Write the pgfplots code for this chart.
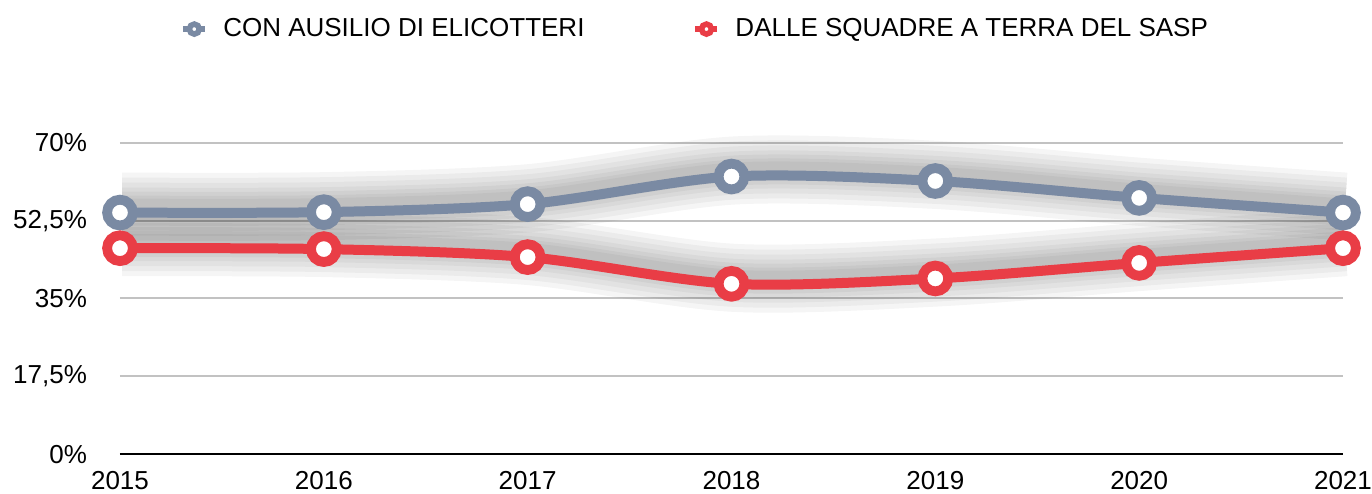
\documentclass[border=0pt]{standalone}
\usepackage{fontspec}
\setmainfont{Liberation Sans}
\usepackage{pgfplots}
\pgfplotsset{compat=1.18}
\definecolor{cgrey}{HTML}{7A8AA3}
\definecolor{cred}{HTML}{E93D46}
\definecolor{cgrid}{HTML}{C2C2C2}
\pgfplotstableread{
year grey red
2015 54.3 46.3
2016 54.4 46.1
2017 56.2 44.3
2018 62.4 38.3
2019 61.4 39.5
2020 57.6 43.0
2021 54.3 46.3
}\datatable
\pgfplotsset{shadow/.style={smooth, draw=black, opacity=0.04, forget plot, yshift=3bp, xshift=1bp, line width=#1}}
\begin{document}
\fontsize{13bp}{15bp}\selectfont
\begin{tikzpicture}
\begin{axis}[
  at={(0,0)}, anchor=south west,
  scale only axis, width=611.5bp, height=155.8bp,
  xmin=2015, xmax=2021, ymin=0, ymax=70,
  clip=false,
  axis x line*=bottom, axis y line*=left,
  y axis line style={draw=none},
  x axis line style={black, line width=1bp},
  major tick length=0pt,
  ymajorgrids, grid style={cgrid, line width=1bp},
  xtick={2015,2016,2017,2018,2019,2020,2021},
  xticklabels={2015,2016,2017,2018,2019,2020,2021},
  ytick={0,17.5,35,52.5,70},
  yticklabels={0\%,{17,5\%},35\%,{52,5\%},70\%},
  yticklabel style={anchor=east, xshift=-12bp, font=\fontsize{13bp}{15bp}\selectfont},
  xticklabel style={anchor=north, yshift=-4bp, font=\fontsize{13bp}{15bp}\selectfont},
  legend columns=2,
  legend style={draw=none, fill=none, inner sep=0pt, anchor=west,
    at={(0.049,1.3646)},
    nodes={inner sep=0pt, font=\fontsize{13bp}{15bp}\selectfont},
    /tikz/every odd column/.append style={column sep=7.5bp},
    /tikz/every even column/.append style={column sep=54bp}},
  legend cell align=left,
]
% shadows
\addplot[shadow=34bp] table[x=year,y=grey]{\datatable};
\addplot[shadow=34bp] table[x=year,y=red]{\datatable};
\addplot[shadow=29bp] table[x=year,y=grey]{\datatable};
\addplot[shadow=29bp] table[x=year,y=red]{\datatable};
\addplot[shadow=24bp] table[x=year,y=grey]{\datatable};
\addplot[shadow=24bp] table[x=year,y=red]{\datatable};
\addplot[shadow=19bp] table[x=year,y=grey]{\datatable};
\addplot[shadow=19bp] table[x=year,y=red]{\datatable};
\addplot[shadow=15bp] table[x=year,y=grey]{\datatable};
\addplot[shadow=15bp] table[x=year,y=red]{\datatable};
\addplot[shadow=11bp] table[x=year,y=grey]{\datatable};
\addplot[shadow=11bp] table[x=year,y=red]{\datatable};
\addplot[shadow=8bp] table[x=year,y=grey]{\datatable};
\addplot[shadow=8bp] table[x=year,y=red]{\datatable};
\addplot[smooth, draw=cgrey, line width=5bp, mark=*, mark size=6.45bp,
  mark options={fill=white, draw=cgrey, line width=4.9bp},
  legend image code/.code={
    \draw[cgrey, line width=3bp] (0.5bp,0bp) -- (11.5bp,0bp);
    \draw[cgrey, fill=white, line width=2.8bp] (6bp,0bp) circle (2.5bp);}
  ] table[x=year,y=grey]{\datatable};
\addlegendentry{CON AUSILIO DI ELICOTTERI}
\addplot[smooth, draw=cred, line width=5bp, mark=*, mark size=6.45bp,
  mark options={fill=white, draw=cred, line width=4.9bp},
  legend image code/.code={
    \draw[cred, line width=3bp] (0.5bp,0bp) -- (11.5bp,0bp);
    \draw[cred, fill=white, line width=2.8bp] (6bp,0bp) circle (2.5bp);}
  ] table[x=year,y=red]{\datatable};
\addlegendentry{DALLE SQUADRE A TERRA DEL SASP}
\end{axis}
\pgfresetboundingbox
\path[use as bounding box] (-60bp,-19.85bp) rectangle (626bp,227.15bp);
\end{tikzpicture}
\end{document}
